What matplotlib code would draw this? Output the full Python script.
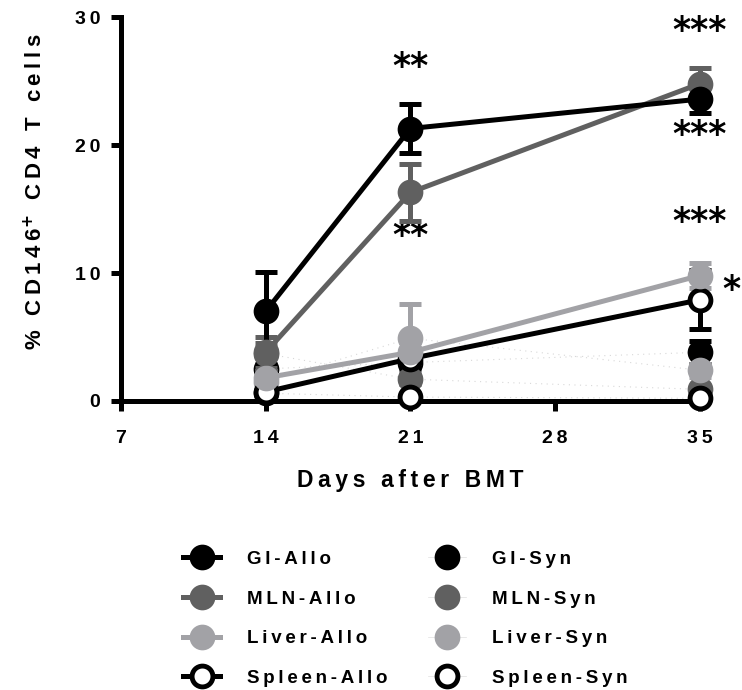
import matplotlib
matplotlib.use('Agg')
import matplotlib.pyplot as plt
from matplotlib.lines import Line2D

plt.rcParams['font.family'] = ['Liberation Sans', 'DejaVu Sans']
plt.rcParams['font.weight'] = 'bold'

days = [14, 21, 35]

# allo groups: mean and sem
gi_allo = [7.0, 21.3, 23.6]
gi_allo_err = [3.1, 1.9, 1.1]
mln_allo = [3.8, 16.3, 24.8]
mln_allo_err = [1.2, 2.2, 1.2]
liver_allo = [1.8, 3.8, 9.8]
liver_allo_err = [0.5, 0.8, 1.0]
spleen_allo = [0.7, 3.3, 7.9]
spleen_allo_err = [0.3, 0.5, 2.3]

# syn groups
gi_syn = [2.5, 3.0, 3.8]
gi_syn_err = [1.0, 0.5, 0.9]
mln_syn = [3.7, 1.7, 0.9]
mln_syn_err = [0.8, 0.4, 0.3]
liver_syn = [1.5, 4.9, 2.4]
liver_syn_err = [0.4, 2.7, 0.5]
spleen_syn = [0.6, 0.3, 0.2]
spleen_syn_err = [0.2, 0.1, 0.1]

stars = [(21, 26.1, '**'), (21, 12.9, '**'), (35, 28.9, '***'),
         (35, 20.8, '***'), (35, 14.0, '***'), (36.55, 8.7, '*')]

BLACK = '#000000'
DARK = '#606060'
LIGHT = '#a2a2a6'


def sp(s):
    return '\u2009'.join(s)


fig = plt.figure(figsize=(7.42, 6.9), dpi=100)
ax = fig.add_axes([0.163, 0.419, 0.78, 0.556])

lw = 3.6
ms = 15

syn = [(gi_syn, gi_syn_err, BLACK, BLACK),
       (mln_syn, mln_syn_err, DARK, DARK),
       (liver_syn, liver_syn_err, LIGHT, LIGHT),
       (spleen_syn, spleen_syn_err, BLACK, 'white')]
for vals, err, c, fc in syn:
    ax.plot(days, vals, color='#d8d8d8', lw=0.8, ls=(0, (1, 4)), zorder=2)
    ax.errorbar(days, vals, yerr=err, fmt='none', ecolor=c, elinewidth=lw,
                capsize=8, capthick=lw, zorder=3, clip_on=False)
    ax.plot(days, vals, ls='none', marker='o', ms=ms, mfc=fc, mec=c,
            mew=3.5, zorder=4, clip_on=False)

allo = [(spleen_allo, spleen_allo_err, BLACK, 'white'),
        (liver_allo, liver_allo_err, LIGHT, LIGHT),
        (mln_allo, mln_allo_err, DARK, DARK),
        (gi_allo, gi_allo_err, BLACK, BLACK)]
for vals, err, c, fc in allo:
    ax.errorbar(days, vals, yerr=err, fmt='none', ecolor=c, elinewidth=lw,
                capsize=8, capthick=lw, zorder=5, clip_on=False)
    ax.plot(days, vals, color=c, lw=lw, marker='o', ms=ms, mfc=fc, mec=c,
            mew=3.5, zorder=6, clip_on=False)

for x, y, s in stars:
    ax.text(x, y, s, ha='center', va='center', fontsize=25,
            fontweight='bold', family='DejaVu Sans', clip_on=False)

ax.set_xlim(7, 35)
ax.set_ylim(0, 30)
ax.set_xticks([7, 14, 21, 28, 35])
ax.set_xticklabels([sp(str(t)) for t in [7, 14, 21, 28, 35]])
ax.set_yticks([0, 10, 20, 30])
ax.set_yticklabels([sp(str(t)) for t in [0, 10, 20, 30]])
for s in ['top', 'right']:
    ax.spines[s].set_visible(False)
for s in ['left', 'bottom']:
    ax.spines[s].set_linewidth(3.6)
ax.tick_params(width=3.6, length=7, labelsize=14)
ax.tick_params(axis='x', pad=14)
ax.tick_params(axis='y', pad=8)
for lab in ax.get_xticklabels() + ax.get_yticklabels():
    lab.set_fontweight('bold')

ax.set_xlabel(sp('Days after BMT'), fontsize=16.5, fontweight='bold')
ax.xaxis.set_label_coords(0.5, -0.177)
ax.set_ylabel(sp('% CD146') + '$^{+}$' + '\u2009' + sp(' CD4 T cells'),
              fontsize=16, fontweight='bold')
ax.yaxis.set_label_coords(-0.127, 0.545)

names_allo = ['GI-Allo', 'MLN-Allo', 'Liver-Allo', 'Spleen-Allo']
names_syn = ['GI-Syn', 'MLN-Syn', 'Liver-Syn', 'Spleen-Syn']
cols = [(BLACK, BLACK), (DARK, DARK), (LIGHT, LIGHT), (BLACK, 'white')]
handles = []
labels = []
for (c, fc), n in zip(cols, names_allo):
    handles.append(Line2D([], [], color=c, lw=lw, marker='o', ms=ms,
                          mfc=fc, mec=c, mew=3.5))
    labels.append(sp(n))
for (c, fc), n in zip(cols, names_syn):
    handles.append(Line2D([], [], color='#e0e0e0', lw=0.5, marker='o',
                          ms=ms, mfc=fc, mec=c, mew=3.5))
    labels.append(sp(n))
fig.legend(handles, labels, ncol=2, loc='center',
           bbox_to_anchor=(0.546, 0.103), frameon=False,
           prop={'size': 13.5, 'weight': 'bold'}, handlelength=2.0,
           labelspacing=1.2, columnspacing=2.2, handletextpad=1.4)

fig.savefig('out.png', dpi=100)
